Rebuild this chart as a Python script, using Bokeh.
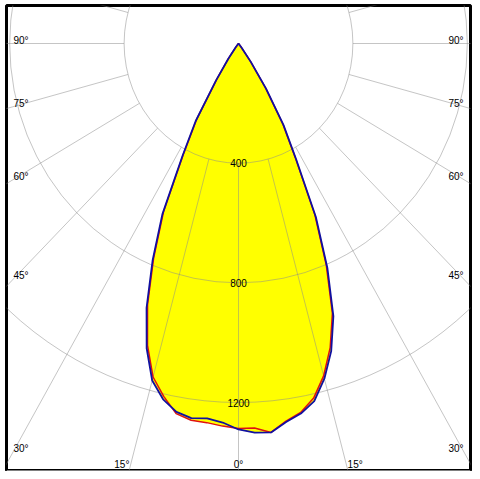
import math
from bokeh.plotting import figure
from bokeh.models import Range1d, Span
from bokeh.core.properties import value
from bokeh.embed import file_html
from bokeh.resources import INLINE

# ---- data (luminous intensity, cd) ----
gamma_deg = [0, 2.5, 5, 7.5, 10, 12.5, 15, 17.5, 20, 22.5, 25, 27.5, 30, 32.5, 35, 37.5, 40]
c0   = [1290, 1302, 1305, 1276, 1256, 1224, 1160, 1078, 970, 812, 640, 437, 315, 180, 75, 18, 0]
c180 = [1290, 1268, 1258, 1263, 1250, 1218, 1166, 1068, 940, 785, 630, 425, 300, 145, 62, 15, 0]
c90  = [1287, 1286, 1305, 1273, 1252, 1214, 1150, 1066, 960, 802, 632, 430, 308, 175, 72, 17, 0]
c270 = [1287, 1280, 1272, 1270, 1256, 1208, 1154, 1058, 930, 775, 620, 418, 293, 141, 60, 14, 0]

grid_values = [400, 800, 1200]
grid_labels = ["400", "800", "1200"]
side_angles = [90, 75, 60, 45, 30]
bottom_left_angles = [15, 0]
bottom_right_angles = [15]

# ---- layout (figure pixel coordinates) ----
SX, SY = 0.286, 0.2992          # px per cd
CX, CY = 238, 43                # pole position
FL, FT, FR, FB = 6, 5, 470, 471 # frame edges
W, H = FR + 2, FB

x_start = (FL - CX) / SX
x_end = (FR - CX) / SX
y_end = (CY - FT) / SY
y_start = (CY - FB) / SY

p = figure(width=W, height=H, x_range=Range1d(x_start, x_end), y_range=Range1d(y_start, y_end),
           output_backend="svg", toolbar_location=None,
           min_border_left=FL, min_border_top=FT, min_border_right=W - FR, min_border_bottom=0,
           x_axis_type=None, y_axis_type=None)
p.grid.visible = False
p.background_fill_color = "white"
p.border_fill_color = "white"
p.outline_line_color = "black"
p.outline_line_width = 3


def curve(left, right):
    xs, ys = [], []
    for g, i in reversed(list(zip(gamma_deg, left))):
        r = math.radians(g)
        xs.append(-i * math.sin(r)); ys.append(-i * math.cos(r))
    for g, i in list(zip(gamma_deg, right))[1:]:
        r = math.radians(g)
        xs.append(i * math.sin(r)); ys.append(-i * math.cos(r))
    return xs, ys

bx, by = curve(c180, c0)
rx, ry = curve(c270, c90)

p.patch(bx, by, fill_color="#ffff00", line_color=None)
p.patch(rx, ry, fill_color="#ffff00", line_color=None)

# grid ellipses
grid_col = "#8c8c8c"
p.ellipse(x=[0] * len(grid_values), y=[0] * len(grid_values),
          width=[2 * v for v in grid_values], height=[2 * v for v in grid_values],
          fill_color=None, line_color=grid_col, line_alpha=0.5, line_width=1)

# radial lines every 15 degrees, starting on the first ring
r0, r1 = grid_values[0], 3000
x0s, y0s, x1s, y1s = [], [], [], []
for a in range(0, 360, 15):
    t = math.radians(a)
    x0s.append(r0 * math.sin(t)); y0s.append(-r0 * math.cos(t))
    x1s.append(r1 * math.sin(t)); y1s.append(-r1 * math.cos(t))
p.segment(x0s, y0s, x1s, y1s, line_color=grid_col, line_alpha=0.5, line_width=1)

# curves
p.line(rx, ry, line_color="#e01010", line_width=1.5)
p.line(bx, by, line_color="#1010a0", line_width=1.8)

font = value("Liberation Sans")
fs = "10px"

# intensity labels
p.text(x=[0] * len(grid_values), y=[-v for v in grid_values], text=grid_labels,
       text_font=font, text_font_size=fs, text_align="center", text_baseline="alphabetic",
       text_color="black")

# side angle labels
edge = 225 / SX
lx, ly, lt = [], [], []
rxl, ryl, rtl = [], [], []
for a in side_angles:
    yv = 0.0 if a == 90 else -edge / math.tan(math.radians(a))
    lx.append(-edge); ly.append(yv); lt.append(f"{a}°")
    rxl.append(edge); ryl.append(yv); rtl.append(f"{a}°")
p.text(x=lx, y=ly, text=lt, text_font=font, text_font_size=fs, text_align="left",
       text_baseline="alphabetic", y_offset=-3, text_color="black")
p.text(x=rxl, y=ryl, text=rtl, text_font=font, text_font_size=fs, text_align="right",
       text_baseline="alphabetic", y_offset=-3, text_color="black")

# bottom angle labels
yb = (CY - 469) / SY
for a in bottom_left_angles:
    xv = yb * math.tan(math.radians(a))
    p.text(x=[xv], y=[yb], text=[f"{a}°"], text_font=font, text_font_size=fs,
           text_align="center" if a == 0 else "right", text_baseline="bottom", text_color="black")
for a in bottom_right_angles:
    xv = -yb * math.tan(math.radians(a))
    p.text(x=[xv], y=[yb], text=[f"{a}°"], text_font=font, text_font_size=fs,
           text_align="left", text_baseline="bottom", text_color="black")

p.add_layout(Span(location=y_start, dimension="width", line_color="#808080", line_width=3))

open("out.html", "w").write(file_html(p, INLINE))
